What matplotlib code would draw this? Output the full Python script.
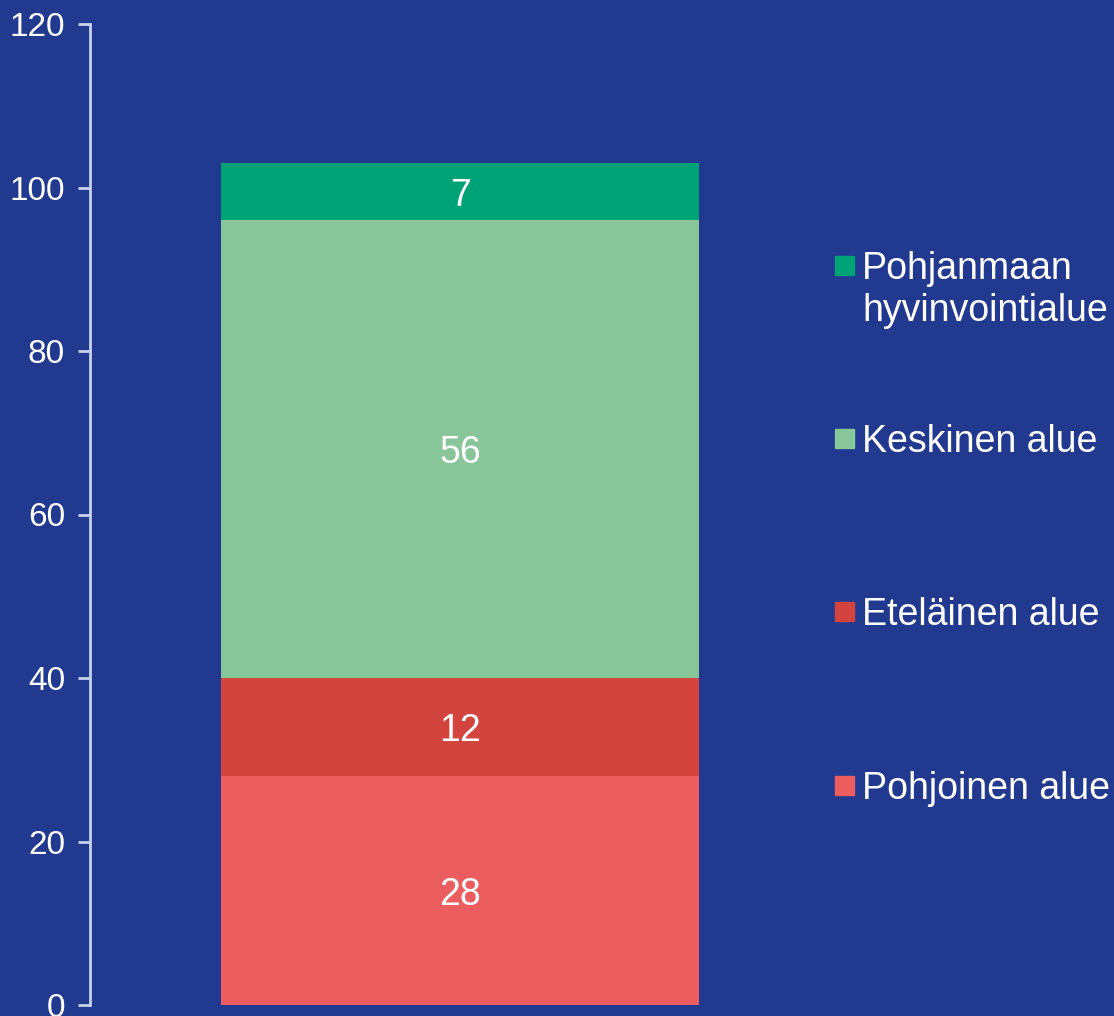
import matplotlib.pyplot as plt
from matplotlib.patches import Rectangle

# Data (bottom to top of the stack)
categories = ['Pohjoinen alue', 'Eteläinen alue', 'Keskinen alue', 'Pohjanmaan\nhyvinvointialue']
values = [28, 12, 56, 7]
colors = ['#EB5D5F', '#D3443F', '#88C598', '#00A376']
yticks = [0, 20, 40, 60, 80, 100, 120]

bg = '#213A8F'
axis_col = '#C8D2EC'
plt.rcParams['font.family'] = ['Liberation Sans', 'DejaVu Sans']

fig = plt.figure(figsize=(11.14, 10.16), dpi=100, facecolor=bg)
ax = fig.add_axes([90 / 1114, 1 - 1005 / 1016, 740 / 1114, (1005 - 24) / 1016])
ax.set_facecolor(bg)

bottom = 0
for cat, val, col in zip(categories, values, colors):
    ax.bar(0, val, width=0.646, bottom=bottom, color=col, linewidth=0)
    ax.text(0, bottom + val / 2, str(val), ha='center', va='center_baseline',
            color='white', fontsize=27)
    bottom += val

ax.set_xlim(-0.5, 0.5)
ax.set_ylim(0, 120)
ax.set_yticks(yticks)
ax.set_xticks([])
for s in ['top', 'right', 'bottom']:
    ax.spines[s].set_visible(False)
ax.spines['left'].set_color(axis_col)
ax.spines['left'].set_linewidth(2)
ax.tick_params(axis='y', colors=axis_col, length=9, width=2, labelsize=24,
               labelcolor='white', pad=9)

# Legend, top entry first
leg_y = [265, 438, 611, 785]
for cat, col, y in zip(categories[::-1], colors[::-1], leg_y):
    fig.patches.append(Rectangle((835 / 1114, 1 - (y + 10) / 1016),
                                 19 / 1114, 19 / 1016, color=col,
                                 transform=fig.transFigure))
    for i, line in enumerate(cat.split('\n')):
        fig.text(862 / 1114, 1 - (y + 42 * i) / 1016, line, color='white',
                 fontsize=27, va='center_baseline', ha='left')

fig.savefig('out.png', dpi=100, facecolor=bg)
